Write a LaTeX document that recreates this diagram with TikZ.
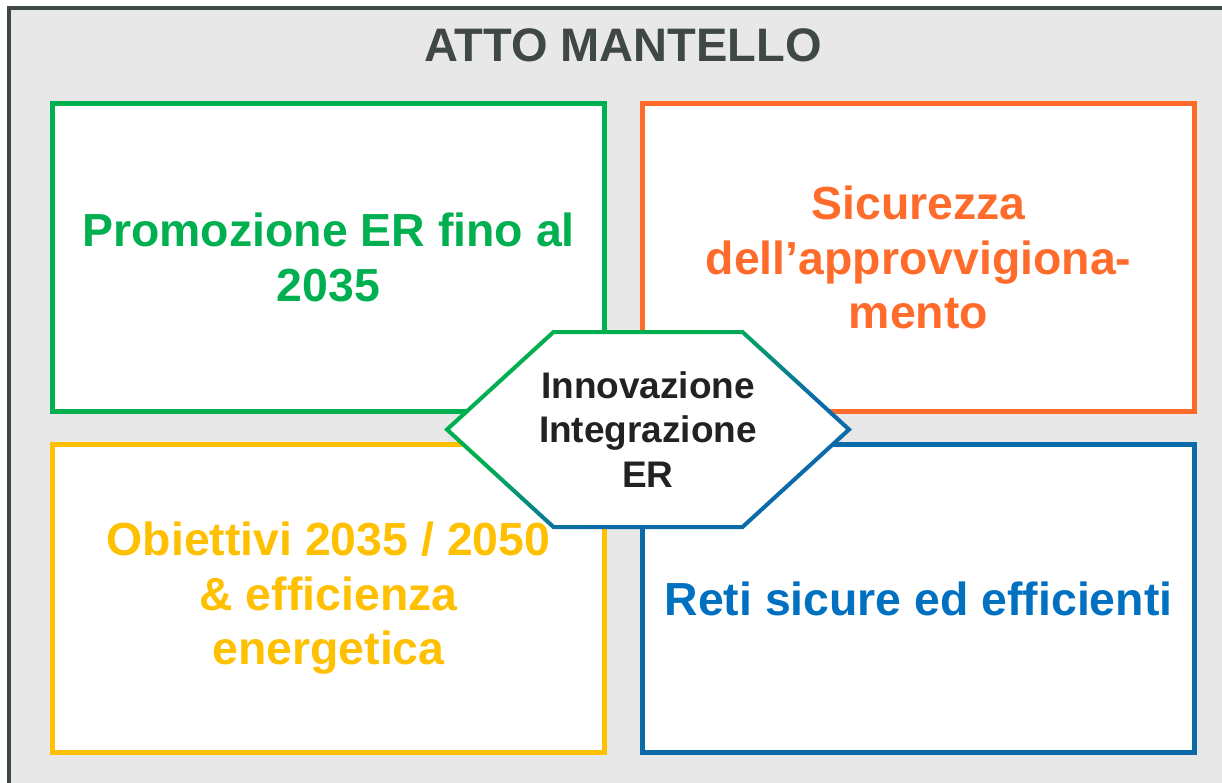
\documentclass[tikz,border=0pt]{standalone}
\usepackage{fontspec}
\setmainfont{Liberation Sans}
\usepackage{tikz}
\usetikzlibrary{calc}
\definecolor{framegray}{HTML}{404747}
\definecolor{panelgray}{HTML}{E8E8E8}
\definecolor{ergreen}{HTML}{00B050}
\definecolor{erorange}{HTML}{FF6B2B}
\definecolor{eryellow}{HTML}{FFC000}
\definecolor{erblue}{HTML}{0070C0}
\definecolor{erbluebox}{HTML}{0B6BA8}
\definecolor{hubtext}{HTML}{222222}
\pgfdeclareverticalshading{hubfade}{100bp}{color(0bp)=(erbluebox); color(40bp)=(erbluebox); color(60bp)=(ergreen); color(100bp)=(ergreen)}
\tikzset{
  panel/.style={draw=framegray, fill=panelgray, line width=3.5pt},
  titlenode/.style={text=framegray, font=\fontsize{47}{54}\selectfont\bfseries, inner sep=0pt},
  quadnode/.style={draw, fill=white, line width=4.5pt, align=center, font=\fontsize{46.4}{54.5}\selectfont\bfseries, minimum width=552pt, minimum height=308pt, inner sep=0pt},
  hubnode/.style={align=center, text=hubtext, font=\fontsize{37}{44.5}\selectfont\bfseries, inner sep=0pt},
  hubring/.style={even odd rule, shading=hubfade, shading angle=30}
}
\begin{document}
\begin{tikzpicture}[x=1pt, y=-1pt]
  \useasboundingbox (0,0) rectangle (1222,782);
  \clip (0,0) rectangle (1222,782);
  \fill[white] (0,0) rectangle (1222,782);
  % outer frame, runs off the page on the right and at the bottom
  \draw[panel] (9,8) rectangle (1250,810);
  \node[titlenode] (title) at (623,45) {ATTO MANTELLO};
  % the four areas
  \node[quadnode, draw=ergreen, text=ergreen] (promo) at (328.5,257.5) {Promozione ER fino al\\2035};
  \node[quadnode, draw=erorange, text=erorange] (sicur) at (918.5,257.5) {Sicurezza\\dell'approvvigiona-\\mento};
  \node[quadnode, draw=eryellow, text=eryellow] (obiet) at (328.5,598.5) {Obiettivi 2035 / 2050\\\& efficienza\\energetica};
  \node[quadnode, draw=erbluebox, text=erblue] (reti) at (918.5,598.5) {Reti sicure ed efficienti};
  % central hexagon
  \coordinate (hubc) at (648,429.5);
  \begin{scope}[shift={(hubc)}]
    \fill[white] (-201,0) -- (-94.5,-97.5) -- (94.5,-97.5) -- (201,0) -- (94.5,97.5) -- (-94.5,97.5) -- cycle;
    \shade[hubring] (-204,0) -- (-95.3,-99.5) -- (95.3,-99.5) -- (204,0) -- (95.3,99.5) -- (-95.3,99.5) -- cycle
      (-198,0) -- (-93.7,-95.5) -- (93.7,-95.5) -- (198,0) -- (93.7,95.5) -- (-93.7,95.5) -- cycle;
  \end{scope}
  \node[hubnode] (hub) at (hubc) {Innovazione\\Integrazione\\ER};
\end{tikzpicture}
\end{document}
